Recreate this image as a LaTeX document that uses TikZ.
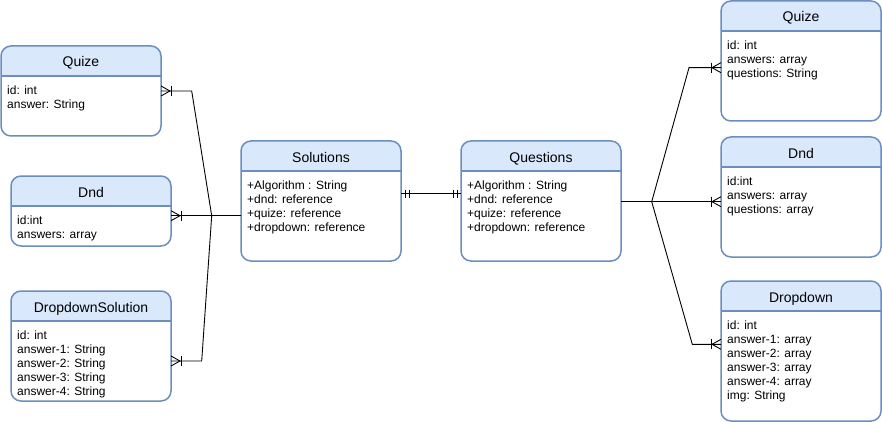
\documentclass[tikz,border=0pt]{standalone}
\usepackage{fontspec}
\setmainfont{Liberation Sans}
\usetikzlibrary{calc}
\definecolor{hdr}{HTML}{DAE8FC}
\definecolor{bord}{HTML}{6C8EBF}
\tikzset{
 ent/.style={draw=bord, line width=1.5pt, rounded corners=10pt, inner sep=0pt, outer sep=0pt, rectangle},
 sepline/.style={draw=bord, line width=1.5pt},
 ttl/.style={font=\fontsize{14}{16}\selectfont, anchor=base, inner sep=0pt},
 bdy/.style={font=\fontsize{12}{14}\selectfont, align=left, anchor=north west, inner sep=0pt},
 conn/.style={draw=black, line width=0.9pt},
}
\newcommand\entity[7]{%
 \fill[white, rounded corners=10pt] (#2,#3) rectangle ++(#4,#5);
 \begin{scope}
 \clip (#2,#3) rectangle ++(#4,30);
 \fill[hdr, rounded corners=10pt] (#2,#3) rectangle ++(#4,#5);
 \end{scope}
 \node[ent, minimum width=#4pt, minimum height=#5pt, anchor=north west] (#1) at (#2,#3) {};
 \draw[sepline] ($(#1.north west)+(0,30)$) -- ($(#1.north east)+(0,30)$);
 \node[ttl] (#1-title) at ($(#1.north)+(0,21)$) {#6};
 \node[bdy] (#1-body) at ($(#1.north west)+(6,38.2)$) {\strut #7};
}
\newcommand\manyR[1]{%
 \draw[conn] ($(#1)+(0,-5)$) -- ($(#1)+(9,0)$) -- ($(#1)+(0,5)$);
 \draw[conn] ($(#1)+(10,-5)$) -- ($(#1)+(10,5)$);}
\newcommand\manyL[1]{%
 \draw[conn] ($(#1)+(0,-5)$) -- ($(#1)+(-9,0)$) -- ($(#1)+(0,5)$);
 \draw[conn] ($(#1)+(-10,-5)$) -- ($(#1)+(-10,5)$);}
\newcommand\oneone[2]{%
 \draw[conn] ($(#1)+(#2*4,-4)$) -- ($(#1)+(#2*4,4)$);
 \draw[conn] ($(#1)+(#2*8,-4)$) -- ($(#1)+(#2*8,4)$);}
\begin{document}
\begin{tikzpicture}[x=1pt,y=-1pt]
\useasboundingbox (0,0) rectangle (882,422);
\entity{lq}{1}{46}{160}{90}{Quize}{id: int\\answer: String}
\entity{ld}{11}{176}{160}{70}{Dnd}{id:int\\answers: array}
\entity{lds}{11}{291}{160}{110}{DropdownSolution}{id: int\\answer-1: String\\answer-2: String\\answer-3: String\\answer-4: String}
\entity{sol}{241}{141}{160}{120}{Solutions}{+Algorithm : String\\+dnd: reference\\+quize: reference\\+dropdown: reference}
\entity{que}{461}{141}{160}{120}{Questions}{+Algorithm : String\\+dnd: reference\\+quize: reference\\+dropdown: reference}
\entity{rq}{721}{1}{160}{120}{Quize}{id: int\\answers: array\\questions: String}
\entity{rd}{721}{137}{160}{120}{Dnd}{id:int\\answers: array\\questions: array}
\entity{rdd}{721}{281}{160}{140}{Dropdown}{id: int\\answer-1: array\\answer-2: array\\answer-3: array\\answer-4: array\\img: String}

\coordinate (lqE) at ($(lq.north east)+(0,45)$);
\coordinate (ldE) at ($(ld.north east)+(0,39.7)$);
\coordinate (ldsE) at ($(lds.north east)+(0,70)$);
\coordinate (solW) at ($(sol.north west)+(0,74.7)$);
\coordinate (solE) at ($(sol.north east)+(0,52.5)$);
\coordinate (queW) at ($(que.north west)+(0,52.5)$);
\coordinate (queE) at ($(que.north east)+(0,60.7)$);
\coordinate (rqW) at ($(rq.north west)+(0,66.7)$);
\coordinate (rdW) at ($(rd.north west)+(0,64.7)$);
\coordinate (rddW) at ($(rdd.north west)+(0,63.3)$);
\coordinate (J1) at (211.7,215.7);
\coordinate (J2) at (651.7,201.7);

\draw[conn] (lqE) -- ++(30.7,0) -- (J1);
\draw[conn] (ldE) -- (solW);
\draw[conn] (ldsE) -- ++(30.7,0) -- (J1);
\draw[conn] (solE) -- (queW);
\draw[conn] (queE) -- (J2);
\draw[conn] (J2) -- ($(rqW)+(-32,0)$) -- (rqW);
\draw[conn] (J2) -- (rdW);
\draw[conn] (J2) -- ($(rddW)+(-28.7,0)$) -- (rddW);

\manyR{lqE}
\manyR{ldE}
\manyR{ldsE}
\manyL{rqW}
\manyL{rdW}
\manyL{rddW}
\oneone{solE}{1}
\oneone{queW}{-1}
\end{tikzpicture}
\end{document}
